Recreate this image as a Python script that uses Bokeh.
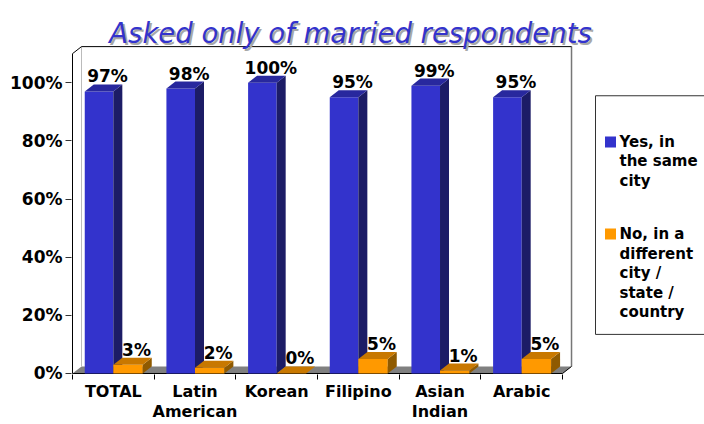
from bokeh.plotting import figure
from bokeh.models import FixedTicker, Range1d
from bokeh.core.properties import value
from bokeh.embed import file_html
from bokeh.resources import INLINE

# ---- data ----
categories = ["TOTAL", "Latin\nAmerican", "Korean", "Filipino", "Asian\nIndian", "Arabic"]
yes_same_city = [97, 98, 100, 95, 99, 95]
no_different_place = [3, 2, 0, 5, 1, 5]
y_ticks = [0, 20, 40, 60, 80, 100]
y_tick_labels = ["0%", "20%", "40%", "60%", "80%", "100%"]
legend_lines = [["Yes, in", "the same", "city"],
                ["No, in a", "different", "city /", "state /", "country"]]
title_text = "Asked only of married respondents"

# ---- geometry (pixel scale helpers) ----
W, H = 704, 424
LEFT = 71
PX_X = 81.67          # px per category
PX_Y = 2.9            # px per percent
FRAME_H = 373
X0 = -1.0 / PX_X
X1 = X0 + (W - LEFT) / PX_X
Y0 = -1.0 / PX_Y
Y1 = Y0 + FRAME_H / PX_Y
DX = 9.0 / PX_X
DY = 7.0 / PX_Y
WALL_TOP = 110.0
N = len(categories)

def sx(px):  # picture x -> data
    return (px - 72) / PX_X

def sy(py):  # picture y -> data
    return (372 - py) / PX_Y

BLUE, BLUE_SIDE, BLUE_TOP = "#3333CC", "#1C1C66", "#28289E"
ORANGE, ORANGE_SIDE, ORANGE_TOP = "#FF9900", "#8F5A00", "#C87800"

p = figure(width=W, height=H, x_range=Range1d(X0, X1), y_range=Range1d(Y0, Y1),
           output_backend="svg", toolbar_location=None, title=None,
           min_border_left=LEFT, min_border_right=0, min_border_top=0, min_border_bottom=0,
           outline_line_color=None, background_fill_color="white")
p.grid.visible = False

# axes
xa = p.xaxis[0]
xa.ticker = FixedTicker(ticks=[i + 0.5 for i in range(N)], minor_ticks=list(range(N + 1)))
xa.major_label_overrides = {i + 0.5: c for i, c in enumerate(categories)}
xa.axis_line_color = None
xa.major_tick_line_color = None
xa.major_tick_out = 0
xa.major_tick_in = 0
xa.minor_tick_out = 5
xa.minor_tick_in = 0
xa.minor_tick_line_color = "black"
xa.major_label_standoff = 2
xa.major_label_text_font = "DejaVu Sans"
xa.major_label_text_font_style = "bold"
xa.major_label_text_font_size = "16px"
xa.major_label_text_line_height = 1.1
xa.major_label_text_color = "black"

ya = p.yaxis[0]
ya.ticker = FixedTicker(ticks=y_ticks, minor_ticks=[])
ya.major_label_overrides = {t: l for t, l in zip(y_ticks, y_tick_labels)}
ya.axis_line_color = None
ya.major_tick_out = 6
ya.major_tick_in = 0
ya.minor_tick_out = 0
ya.major_tick_line_color = "#333333"
ya.major_label_standoff = 3
ya.major_label_text_font = "DejaVu Sans"
ya.major_label_text_font_style = "bold"
ya.major_label_text_font_size = "17px"
ya.major_label_text_color = "black"

# walls and floor
p.quad(left=DX, right=N + DX, bottom=DY, top=WALL_TOP + DY, fill_color="white", line_color=None)
p.patch([0, N, N + DX, DX], [0, 0, DY, DY], fill_color="#808080", line_color=None)
p.line([DX, DX], [DY, WALL_TOP + DY], line_color="#BBBBBB", line_width=1)
p.line([N + DX, N + DX], [DY, WALL_TOP + DY], line_color="#777777", line_width=1.5)
p.line([0, 0, DX, N + DX], [0, WALL_TOP, WALL_TOP + DY, WALL_TOP + DY], line_color="black", line_width=1)
p.line([0, N, N + DX], [0, 0, DY], line_color="black", line_width=1)

# bars
def bars(vals, lo, hi, front, side, top):
    L = [i + lo for i in range(N)]
    R = [i + hi for i in range(N)]
    p.quad(left=L, right=R, bottom=[0] * N, top=vals, fill_color=front, line_color=None)
    p.patches([[r, r + DX, r + DX, r] for r in R],
              [[0, DY, v + DY, v] for v in vals], fill_color=side, line_color=None)
    p.patches([[l, r, r + DX, l + DX] for l, r in zip(L, R)],
              [[v, v, v + DY, v + DY] for v in vals], fill_color=top, line_color=None)
    cx = [(l + r) / 2 + DX / 2 for l, r in zip(L, R)]
    p.text(x=cx, y=[v + DY for v in vals], text=[f"{v}%" for v in vals],
           x_offset=4, y_offset=-8, text_align="center", text_baseline="alphabetic",
           text_font=value("DejaVu Sans"), text_font_style="bold",
           text_font_size="17px", text_color="black")

bars(yes_same_city, 0.15, 0.50, BLUE, BLUE_SIDE, BLUE_TOP)
bars(no_different_place, 0.50, 0.86, ORANGE, ORANGE_SIDE, ORANGE_TOP)

# legend (drawn)
p.quad(left=sx(595), right=sx(720), bottom=sy(333), top=sy(95),
       fill_color="white", line_color="#333333", line_width=1)
first_line_y = [141, 233]
for k, (lines, col) in enumerate(zip(legend_lines, [BLUE, ORANGE])):
    p.scatter([sx(610)], [sy(first_line_y[k])], marker="square", size=11,
              fill_color=col, line_color=None)
    p.text(x=[sx(619)] * len(lines),
           y=[sy(first_line_y[k] + 19.5 * j) for j in range(len(lines))],
           text=lines, text_align="left", text_baseline="middle",
           text_font=value("DejaVu Sans"), text_font_style="bold",
           text_font_size="15px", text_color="black")

# title with shadow
for off, col in [(2, "#A8A8A8"), (0, "#3333CC")]:
    p.text(x=[sx(350)], y=[sy(32)], text=[title_text], x_offset=off, y_offset=off,
           text_align="center", text_baseline="alphabetic",
           text_font=value("DejaVu Sans"), text_font_style="italic",
           text_font_size="27.5px", text_color=col)

open("out.html", "w").write(file_html(p, INLINE))
